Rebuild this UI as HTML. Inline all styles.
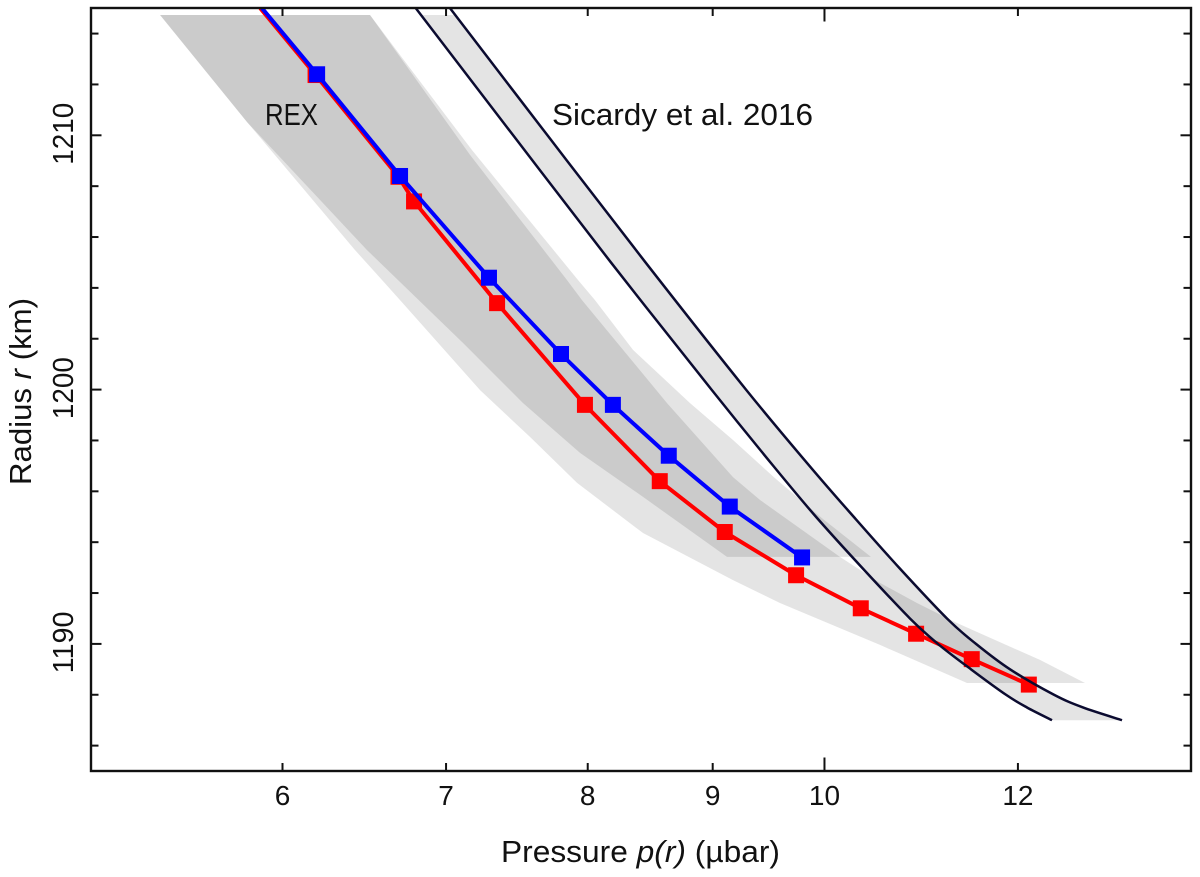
<!DOCTYPE html>
<html lang="en">
<head>
<meta charset="utf-8">
<title>Pressure profile: REX and Sicardy et al. 2016</title>
<style>
html,body{margin:0;padding:0;background:#fff;}
svg{display:block;font-family:"Liberation Sans",sans-serif;fill:#111;}
</style>
</head>
<body>
<svg id="chart" xmlns="http://www.w3.org/2000/svg" width="1200" height="877" viewBox="0 0 1200 877">
  <defs>
    <clipPath id="plot-clip"><rect x="91" y="8" width="1100" height="763"></rect></clipPath>
    <clipPath id="band-clip"><rect id="band-clip-rect" x="91" y="15" width="1100" height="756"></rect></clipPath>
  </defs>
  <g id="bands"></g>
  <g id="series-red"></g>
  <g id="series-blue"></g>
  <g id="curves"></g>
  <g id="axes"></g>
  <text x="265" y="125" font-size="31" textLength="53" lengthAdjust="spacingAndGlyphs">REX</text>
  <text x="552" y="125" font-size="31" textLength="261" lengthAdjust="spacingAndGlyphs">Sicardy et al. 2016</text>
  <text x="501" y="862" font-size="31" textLength="279" lengthAdjust="spacingAndGlyphs">Pressure <tspan font-style="italic">p(r)</tspan> (µbar)</text>
  <text transform="translate(31,485) rotate(-90)" font-size="31" textLength="187" lengthAdjust="spacingAndGlyphs">Radius <tspan font-style="italic">r</tspan> (km)</text>
</svg>
<script>
// Tick values
const xTickValues = [6, 7, 8, 9, 10, 12];
const xTickLabels = ["6", "7", "8", "9", "10", "12"];
const yTickValues = [1186, 1188, 1190, 1192, 1194, 1196, 1198, 1200, 1202, 1204, 1206, 1208, 1210, 1212, 1214];
const yMajorValues = [1190, 1200, 1210];

// Blue series
const blueP = [6.199, 6.703, 7.289, 7.801, 8.192, 8.635, 9.146, 9.791];
const blueR = [1212.4, 1208.4, 1204.4, 1201.4, 1199.4, 1197.4, 1195.4, 1193.4];
const blueStart = [5.885, 1215];

// Red series
const redP = [6.190, 6.693, 6.792, 7.345, 7.979, 8.562, 9.103, 9.736, 10.348, 10.902, 11.489, 12.124];
const redR = [1212.37, 1208.37, 1207.4, 1203.4, 1199.4, 1196.4, 1194.4, 1192.7, 1191.4, 1190.4, 1189.4, 1188.4];
const redStart = [5.875, 1215];

// Sicardy et al. 2016 curves
const sicardyLeftP = [6.803, 7.457, 8.177, 8.990, 9.529, 9.920, 10.360, 10.839, 11.129, 11.481, 11.866, 12.103, 12.392];
const sicardyLeftR = [1215, 1210, 1205, 1200, 1197, 1195, 1193, 1191, 1190, 1189, 1188, 1187.5, 1187];
const sicardyRightP = [7.026, 7.702, 8.448, 9.287, 9.860, 10.279, 10.728, 11.224, 11.535, 11.911, 12.415, 12.759, 13.237];
const sicardyRightR = [1215, 1210, 1205, 1200, 1197, 1195, 1193, 1191, 1190, 1189, 1188, 1187.5, 1187];

// REX uncertainty band following the red series
const bandRedP = [5.346, 5.803, 6.424, 6.703, 7.228, 7.576, 7.920, 8.428, 9.174, 9.589, 10.537, 11.438, 12.783, 12.252, 11.330, 10.911, 10.537, 10.147, 9.726, 9.411, 9.174, 8.621, 7.957, 7.845, 7.160, 6.703, 6.516];
const bandRedR = [1214.73, 1210.52, 1205.49, 1203.52, 1199.98, 1198.14, 1196.33, 1194.36, 1192.51, 1191.61, 1189.96, 1188.46, 1188.46, 1189.37, 1190.82, 1191.61, 1192.40, 1193.42, 1194.68, 1195.66, 1196.56, 1199.47, 1203.52, 1204.31, 1209.23, 1213.08, 1214.73];

// REX uncertainty band following the blue series
const bandBlueP = [5.346, 5.803, 6.497, 7.113, 7.527, 7.942, 8.428, 9.122, 10.448, 9.986, 9.544, 9.174, 8.810, 8.349, 8.055, 7.927, 7.173, 6.703, 6.516];
const bandBlueR = [1214.73, 1210.52, 1205.49, 1201.83, 1199.47, 1197.51, 1195.78, 1193.42, 1193.42, 1194.91, 1196.52, 1198.02, 1199.47, 1201.56, 1203.52, 1204.31, 1209.42, 1213.16, 1214.73];

const sicardyFillTopR = 1214.73;

function xScale(p) { return 282.5 + 2443 * Math.log10(p / 6); }
function yScale(r) { return 135.3 + (1210 - r) * 25.43; }

const NS = "http://www.w3.org/2000/svg";
function svgEl(parent, tag, attrs) {
  const el = document.createElementNS(NS, tag);
  for (const k in attrs) el.setAttribute(k, attrs[k]);
  parent.appendChild(el);
  return el;
}
function toPts(ps, rs) {
  return ps.map((p, i) => [xScale(p), yScale(rs[i])]);
}
function linePath(pts) {
  return pts.map((q, i) => (i ? "L" : "M") + q[0].toFixed(2) + " " + q[1].toFixed(2)).join(" ");
}
function smoothPath(pts) {
  let d = "M" + pts[0][0].toFixed(2) + " " + pts[0][1].toFixed(2);
  for (let i = 0; i < pts.length - 1; i++) {
    const a = pts[Math.max(i - 1, 0)], b = pts[i], c = pts[i + 1], e = pts[Math.min(i + 2, pts.length - 1)];
    const c1x = b[0] + (c[0] - a[0]) / 6, c1y = b[1] + (c[1] - a[1]) / 6;
    const c2x = c[0] - (e[0] - b[0]) / 6, c2y = c[1] - (e[1] - b[1]) / 6;
    d += " C" + c1x.toFixed(2) + " " + c1y.toFixed(2) + " " + c2x.toFixed(2) + " " + c2y.toFixed(2) + " " + c[0].toFixed(2) + " " + c[1].toFixed(2);
  }
  return d;
}

// Bands
const bandsG = document.getElementById("bands");
const SHADE = "rgba(0,0,0,0.105)";
const bandA = svgEl(bandsG, "path", { d: linePath(toPts(bandRedP, bandRedR)) + " Z", fill: SHADE });


const bandB = svgEl(bandsG, "path", { d: linePath(toPts(bandBlueP, bandBlueR)) + " Z", fill: SHADE });



const leftPts = toPts(sicardyLeftP, sicardyLeftR);
const rightPts = toPts(sicardyRightP, sicardyRightR);
document.getElementById("band-clip-rect").setAttribute("y", yScale(sicardyFillTopR));
const sicFill = svgEl(bandsG, "path", {
  d: smoothPath(leftPts) + " " + smoothPath(rightPts.slice().reverse()).replace("M", "L") + " Z",
  fill: SHADE, "clip-path": "url(#band-clip)"
});



// Series
function drawSeries(groupId, ps, rs, start, color) {
  const g = document.getElementById(groupId);
  const pts = [[xScale(start[0]), yScale(start[1])]].concat(toPts(ps, rs));
  const line = svgEl(g, "path", { d: linePath(pts), fill: "none", stroke: color, "stroke-width": 4, "stroke-linejoin": "round", "clip-path": "url(#plot-clip)" });
  
  
  ps.forEach((p, i) => {
    const m = svgEl(g, "rect", { x: xScale(p) - 8, y: yScale(rs[i]) - 8, width: 16, height: 16, fill: color });
    
    
  });
}
drawSeries("series-red", redP, redR, redStart, "#ff0000");
drawSeries("series-blue", blueP, blueR, blueStart, "#0000ff");

// Curves
const curvesG = document.getElementById("curves");
const curveL = svgEl(curvesG, "path", { d: smoothPath(leftPts), fill: "none", stroke: "#0b0b30", "stroke-width": 2.5, "clip-path": "url(#plot-clip)" });


const curveR = svgEl(curvesG, "path", { d: smoothPath(rightPts), fill: "none", stroke: "#0b0b30", "stroke-width": 2.5, "clip-path": "url(#plot-clip)" });



// Axes
const axesG = document.getElementById("axes");
const L = 91, R = 1191, T = 8, B = 771;
const frame = svgEl(axesG, "rect", { x: L, y: T, width: R - L, height: B - T, fill: "none", stroke: "#111", "stroke-width": 2.4 });



xTickValues.forEach((v, i) => {
  const x = xScale(v);
  const len = v === 10 ? 13.5 : 8;
  const tb = svgEl(axesG, "line", { x1: x, x2: x, y1: B, y2: B - len, stroke: "#111", "stroke-width": 2 });
  
  
  const tt = svgEl(axesG, "line", { x1: x, x2: x, y1: T, y2: T + len, stroke: "#111", "stroke-width": 2 });
  
  
  const lab = svgEl(axesG, "text", { x: x, y: 805, "font-size": 28, "text-anchor": "middle" });
  
  
  lab.textContent = xTickLabels[i];
});

yTickValues.forEach((v) => {
  const y = yScale(v);
  const major = yMajorValues.indexOf(v) >= 0;
  const len = major ? 10.5 : 7.5;
  const tl = svgEl(axesG, "line", { x1: L, x2: L + len, y1: y, y2: y, stroke: "#111", "stroke-width": 2 });
  
  
  const tr = svgEl(axesG, "line", { x1: R, x2: R - len, y1: y, y2: y, stroke: "#111", "stroke-width": 2 });
  
  
  if (major) {
    const lab = svgEl(axesG, "text", { "font-size": 29, "text-anchor": "middle", textLength: 62, lengthAdjust: "spacingAndGlyphs", transform: "translate(73," + (y - 1.5) + ") rotate(-90)" });
    
    
    lab.textContent = String(v);
  }
});
</script>
</body>
</html>
